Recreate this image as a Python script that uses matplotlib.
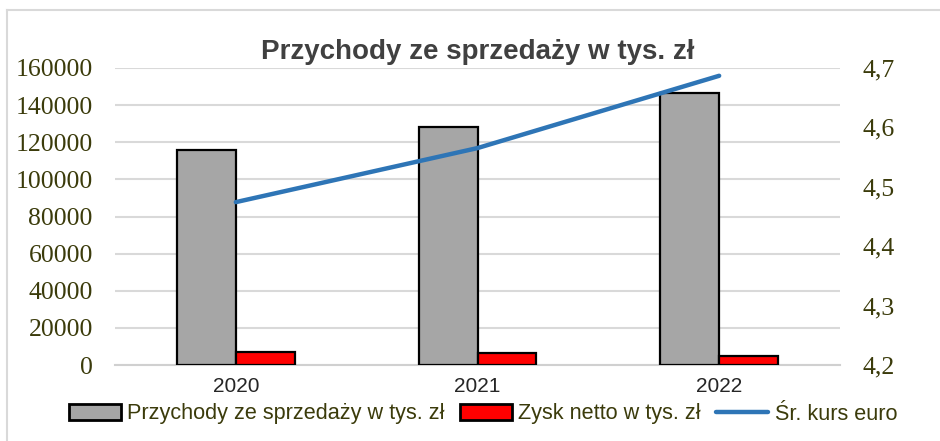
import matplotlib
matplotlib.use("Agg")
import matplotlib.pyplot as plt
from matplotlib.patches import Patch
from matplotlib.lines import Line2D
import numpy as np

years = ["2020", "2021", "2022"]
przychody = [115800, 128300, 146800]
zysk = [7200, 6400, 4600]
kurs = [4.4742, 4.5652, 4.6869]

left_ticks = [0, 20000, 40000, 60000, 80000, 100000, 120000, 140000, 160000]
right_ticks = [4.2, 4.3, 4.4, 4.5, 4.6, 4.7]
right_labels = ["4,2", "4,3", "4,4", "4,5", "4,6", "4,7"]

tick_color = "#3b3b0b"
sans = ["Liberation Sans", "DejaVu Sans"]
serif = ["Liberation Serif", "DejaVu Serif"]

W, H = 940, 441
fig = plt.figure(figsize=(W / 100, H / 100), dpi=100)
ax = fig.add_axes([115 / W, (H - 365) / H, 725 / W, 297 / H])

x = np.arange(len(years))
bw = 0.244
ax.bar(x - bw / 2, przychody, width=bw, color="#a6a6a6", edgecolor="black", linewidth=1.6, zorder=3)
ax.bar(x + bw / 2, zysk, width=bw, color="#ff0000", edgecolor="black", linewidth=1.6, zorder=3)

ax.set_xlim(-0.5, 2.5)
ax.set_ylim(0, 160000)
ax.set_yticks(left_ticks)
ax.set_yticklabels([str(v) for v in left_ticks], fontfamily=serif, fontsize=18.5, color=tick_color)
ax.set_xticks(x)
ax.set_xticklabels(years, fontfamily=sans, fontsize=15, color="#262626")
ax.tick_params(axis="y", length=0, pad=16)
ax.tick_params(axis="x", length=0, pad=9)
ax.grid(axis="y", color="#d9d9d9", linewidth=1.5, zorder=0)
ax.set_axisbelow(True)
for s in ["top", "right", "left"]:
    ax.spines[s].set_visible(False)
ax.spines["bottom"].set_color("#d0d0d0")
ax.spines["bottom"].set_linewidth(1.5)

ax2 = ax.twinx()
ax2.plot(x, kurs, color="#2e75b6", linewidth=3.2, solid_capstyle="round", zorder=5)
ax2.set_ylim(4.2, 4.7)
ax2.set_yticks(right_ticks)
ax2.set_yticklabels(right_labels, fontfamily=serif, fontsize=18.5, color=tick_color)
ax2.tick_params(axis="y", length=0, pad=16)
for s in ax2.spines.values():
    s.set_visible(False)

fig.text(478 / W, (H - 52) / H, "Przychody ze sprzedaży w tys. zł", ha="center", va="center",
         fontfamily=sans, fontweight="bold", fontsize=20, color="#404040")

handles = [
    Patch(facecolor="#a6a6a6", edgecolor="black", linewidth=2),
    Patch(facecolor="#ff0000", edgecolor="black", linewidth=2),
    Line2D([0], [0], color="#2e75b6", linewidth=3.2, solid_capstyle="round"),
]
labels = ["Przychody ze sprzedaży w tys. zł", "Zysk netto w tys. zł", "Śr. kurs euro"]
leg = fig.legend(handles, labels, loc="center", bbox_to_anchor=(483 / W, (H - 414) / H), ncol=3,
                 frameon=False, prop={"family": sans, "size": 15.6}, handlelength=2.4, handleheight=0.7,
                 handletextpad=0.3, columnspacing=0.7, borderaxespad=0, borderpad=0)
for t in leg.get_texts():
    t.set_color(tick_color)

fig.add_artist(Line2D([7 / W, 7 / W], [0, (H - 10) / H], transform=fig.transFigure, color="#d9d9d9", linewidth=1.5))
fig.add_artist(Line2D([7 / W, 1], [(H - 10) / H, (H - 10) / H], transform=fig.transFigure, color="#d9d9d9", linewidth=1.5))

fig.savefig("out.png", dpi=100, facecolor="white")
